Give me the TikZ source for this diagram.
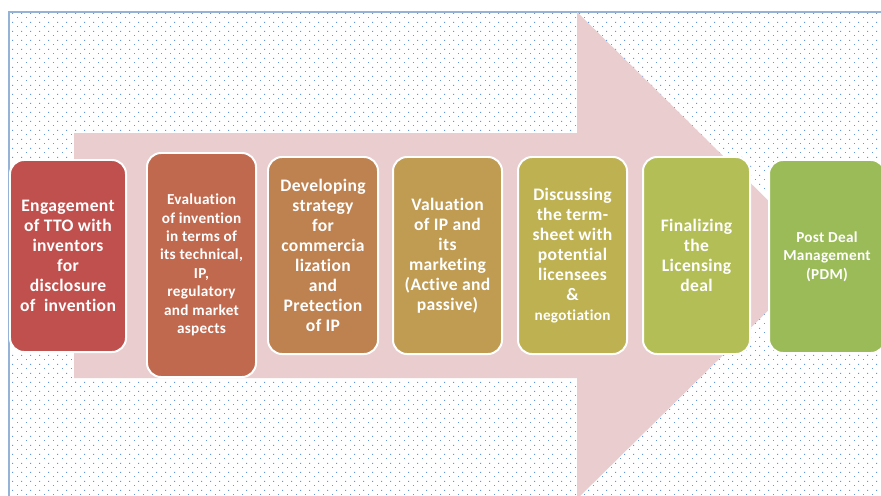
\documentclass[tikz,border=0pt]{standalone}
\usepackage{fontspec}
\setmainfont[Ligatures=NoCommon,LetterSpace=2]{Carlito}
\usetikzlibrary{patterns}

\definecolor{arrowpink}{RGB}{234,205,206}
\definecolor{frameblue}{RGB}{149,179,215}
\definecolor{dotblue}{RGB}{100,150,220}
\definecolor{stepA}{RGB}{192,80,77}
\definecolor{stepB}{RGB}{193,105,78}
\definecolor{stepC}{RGB}{190,129,80}
\definecolor{stepD}{RGB}{192,155,82}
\definecolor{stepE}{RGB}{189,177,82}
\definecolor{stepF}{RGB}{179,190,86}
\definecolor{stepG}{RGB}{155,187,89}

\pgfdeclarepatternformonly{smalldots}{\pgfqpoint{0pt}{0pt}}{\pgfqpoint{7.4pt}{7.4pt}}{\pgfqpoint{7.4pt}{7.4pt}}{
  \pgfpathrectangle{\pgfqpoint{0pt}{0pt}}{\pgfqpoint{0.8pt}{0.8pt}}
  \pgfpathrectangle{\pgfqpoint{3.7pt}{3.7pt}}{\pgfqpoint{0.8pt}{0.8pt}}
  \pgfusepath{fill}}

\begin{document}
\begin{tikzpicture}[x=0.03cm,y=-0.03cm,
    stage/.style={draw=white, line width=1.7pt, rounded corners=12pt, inner sep=0pt,
      align=center, text=white, font=\bfseries\fontsize{15}{17}\selectfont},
    smallstage/.style={stage, font=\bfseries\fontsize{13}{15.7}\selectfont}]
  \clip (0,0) rectangle (881,495);
  \fill[white] (0,0) rectangle (881,495);
  \fill[pattern=smalldots, pattern color=dotblue] (9,12) rectangle (890,500);
  \draw[frameblue, line width=0.9pt] (9,500) -- (9,12) -- (890,12);
  % big arrow behind the steps
  \fill[arrowpink] (74,133) -- (577,133) -- (577,12) -- (824,255.5) -- (577,499)
    -- (577,378) -- (74,378) -- cycle;
  % steps
  \node[stage, fill=stepA, minimum width=3.48cm, minimum height=5.76cm] (engage) at (68,256)
    {Engagement\\of TTO with\\inventors\\for\\disclosure\\of~ invention};
  \node[smallstage, fill=stepB, minimum width=3.27cm, minimum height=6.72cm] (evaluate) at (201.5,265)
    {Evaluation\\of invention\\in terms of\\its technical,\\IP,\\regulatory\\and market\\aspects};
  \node[stage, fill=stepC, minimum width=3.30cm, minimum height=5.91cm] (strategy) at (323,255.5)
    {Developing\\strategy\\for\\commercia\\lization\\and\\Pretection\\of IP};
  \node[stage, fill=stepD, minimum width=3.27cm, minimum height=5.91cm] (valuation) at (447.5,255.5)
    {Valuation\\of IP and\\its\\marketing\\(Active and\\passive)};
  \node[stage, fill=stepE, minimum width=3.27cm, minimum height=5.91cm] (termsheet) at (572.5,255.5)
    {Discussing\\the term-\\sheet with\\potential\\licensees\\\&\\{\fontsize{13}{15.7}\selectfont negotiation}};
  \node[stage, fill=stepF, minimum width=3.21cm, minimum height=5.91cm] (finalize) at (696.5,255.5)
    {Finalizing\\the\\Licensing\\deal};
  \node[smallstage, fill=stepG, minimum width=3.48cm, minimum height=5.79cm] (pdm) at (827,256.5)
    {Post Deal\\Management\\(PDM)};
\end{tikzpicture}
\end{document}
